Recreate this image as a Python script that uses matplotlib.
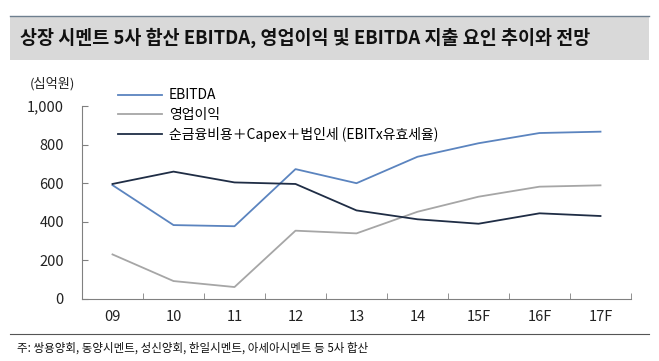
import matplotlib.pyplot as plt
import numpy as np
from matplotlib.patches import Rectangle
from matplotlib.lines import Line2D

plt.rcParams['font.family'] = ['Noto Sans CJK KR', 'DejaVu Sans']

years = ['09', '10', '11', '12', '13', '14', '15F', '16F', '17F']
ebitda = [590, 383, 377, 673, 600, 737, 807, 860, 867]
op_profit = [231, 93, 62, 354, 340, 452, 530, 582, 589]
outflow = [596, 660, 604, 596, 459, 413, 390, 444, 430]

labels = ['EBITDA', '영업이익', '순금융비용＋Capex＋법인세 (EBITx유효세율)']
colors = ['#5b84bf', '#a6a6a6', '#1f2d45']

fig = plt.figure(figsize=(6.59, 3.61), dpi=100)

# title bar
fig.patches.append(Rectangle((10/659, 1-60/361), 639/659, 44/361, transform=fig.transFigure,
                             facecolor='#d9d9d9', edgecolor='none'))
fig.add_artist(Line2D([10/659, 649/659], [1-15.5/361]*2, color='#6e7f8f', lw=1))
fig.text(20/659, 1-38/361, '상장 시멘트 5사 합산 EBITDA, 영업이익 및 EBITDA 지출 요인 추이와 전망',
         fontsize=13.3, fontweight='bold', va='center', ha='left', color='#111111')

ax = fig.add_axes([82/659, 1-299/361, 549/659, 193/361])
x = np.arange(len(years))
for vals, c, lab in zip([ebitda, op_profit, outflow], colors, labels):
    ax.plot(x, vals, color=c, lw=1.3, label=lab)

ax.set_xlim(-0.5, len(years) - 0.5)
ax.set_ylim(0, 1000)
ax.set_yticks(range(0, 1001, 200))
ax.set_yticklabels(['0', '200', '400', '600', '800', '1,000'])
ax.set_xticks(x)
ax.set_xticklabels(years)
ax.set_xticks(np.arange(-0.5, len(years)), minor=True)
ax.tick_params(axis='x', which='major', length=0, pad=8, labelsize=10.5, colors='#222222')
ax.tick_params(axis='x', which='minor', direction='in', length=4, color='#808080')
ax.tick_params(axis='y', direction='in', length=4, color='#808080', labelsize=10.5,
               labelcolor='#222222', pad=13)
for s in ['top', 'right']:
    ax.spines[s].set_visible(False)
for s in ['left', 'bottom']:
    ax.spines[s].set_color('#808080')

fig.text(30/659, 1-84/361, '(십억원)', fontsize=9.5, ha='left', va='center', color='#222222')

ax.legend(loc='upper left', bbox_to_anchor=(30/549, 1.12), frameon=False, fontsize=10,
          handlelength=3.2, handletextpad=0.5, labelspacing=0.38, borderaxespad=0)

fig.add_artist(Line2D([10/659, 649/659], [1-333.5/361]*2, color='#555555', lw=0.8))
fig.text(17/659, 1-348/361, '주: 쌍용양회, 동양시멘트, 성신양회, 한일시멘트, 아세아시멘트 등 5사 합산',
         fontsize=8.3, ha='left', va='center', color='#111111')

fig.savefig('out.png', dpi=100)
